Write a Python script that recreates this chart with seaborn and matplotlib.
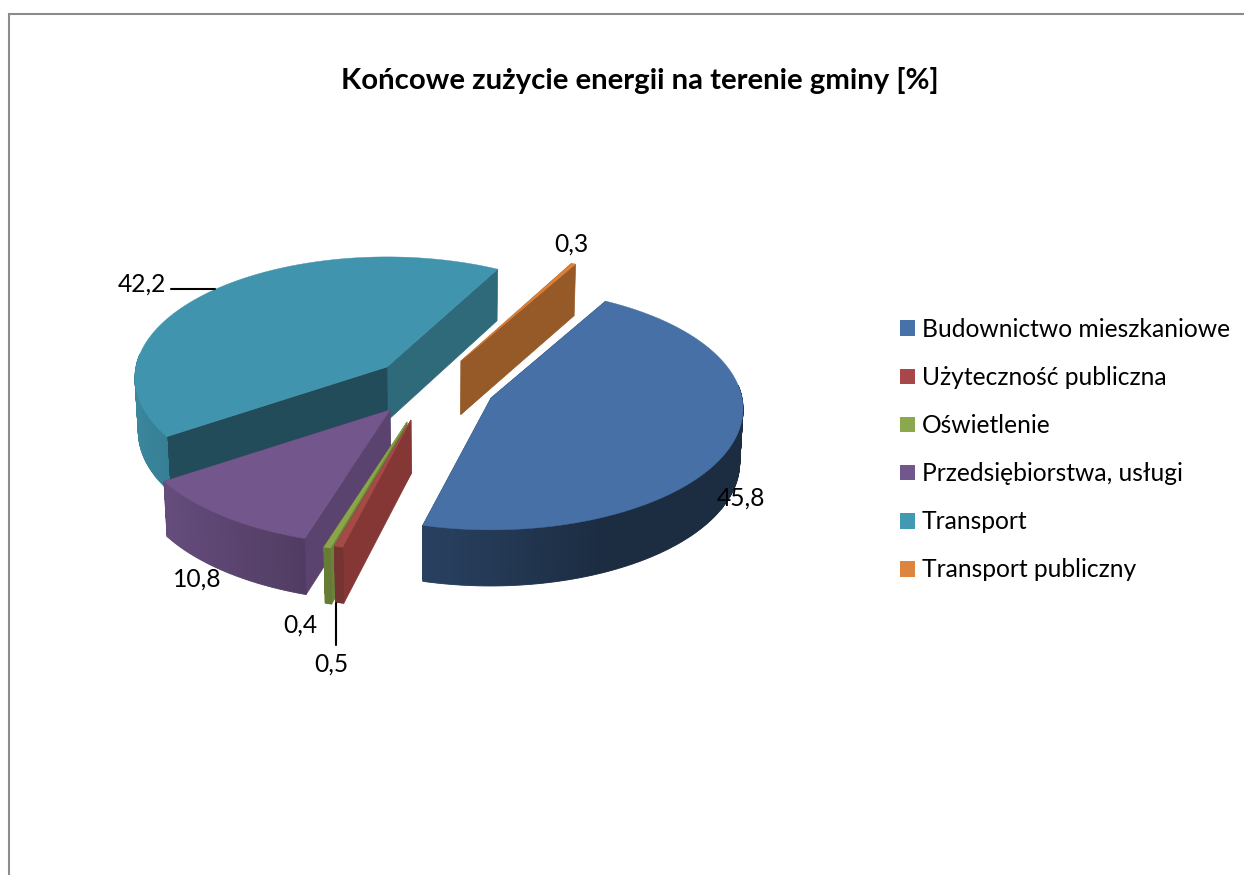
import numpy as np
import matplotlib
matplotlib.use("Agg")
import matplotlib.pyplot as plt
from matplotlib.patches import Patch
from matplotlib.colors import to_rgb
import seaborn as sns

title = "Końcowe zużycie energii na terenie gminy [%]"
categories = ["Budownictwo mieszkaniowe", "Użyteczność publiczna", "Oświetlenie",
              "Przedsiębiorstwa, usługi", "Transport", "Transport publiczny"]
values = [45.8, 0.5, 0.4, 10.8, 42.2, 0.3]
value_labels = ["45,8", "0,5", "0,4", "10,8", "42,2", "0,3"]

sns.set_theme(style="white")
plt.rcParams["font.family"] = ["Lato", "DejaVu Sans"]

top_colors = sns.color_palette(["#4670A6", "#A54A47", "#8AA648", "#72568C", "#4094AD", "#DC8037"])
legend_colors = sns.color_palette(["#4672A8", "#A8474A", "#8AA84C", "#72578F", "#4199B2", "#DD843E"])
side_colors = sns.color_palette(["#2B4A6E", "#843735", "#6B823A", "#5A446F", "#224C5A", "#955A28"])
side2_colors = sns.color_palette(["#2B4A6E", "#843735", "#6B823A", "#5A446F", "#2E6A7A", "#955A28"])
wall_gain = [1.0, 1.2, 1.25, 1.18, 1.15, 1.0]

# layout of the exploded slices
centers = [(491, 398), (411, 420), (407, 422), (390, 410), (387, 367), (461, 361)]
radii = [1.0, 1.0, 1.0, 1.025, 1.0, 1.0]
label_pos = [(741, 498), (331, 664), (300, 625), (197, 579), (142, 284), (571, 244)]
first_angle = 29.5
RX, RY, PERSP, DEPTH, VANISH_X, VANISH_K = 251.0, 120.0, 0.09, 53.5, 440.0, 0.989

fig = plt.figure(figsize=(12.44, 8.75), dpi=100)
ax = fig.add_axes([0, 0, 1, 1])
ax.set_xlim(0, 1244)
ax.set_ylim(875, 0)
ax.axis("off")


def project(angle_deg, center, radius=1.0):
    """Map a pie-plane angle to the top face and to the bottom face."""
    t = np.radians(angle_deg)
    X, Y = radius * np.sin(t), -radius * np.cos(t)
    s = 1.0 / (1.0 - PERSP * Y)
    x = center[0] + RX * X * s
    y = center[1] + RY * Y * s
    xb = VANISH_X + (x - VANISH_X) * VANISH_K
    yb = y + DEPTH * np.sqrt(s)
    return x, y, xb, yb, X, Y


def shade(color, X, gain):
    f = float(np.clip(0.512 - 0.28 * X, 0.40, 0.80)) * gain
    return tuple(min(1.0, c * f) for c in to_rgb(color))


edges = first_angle + np.cumsum([0] + values) * 360.0 / sum(values)
order = [4, 5, 3, 2, 1, 0]

for i in order:
    a0, a1 = edges[i], edges[i + 1]
    c = centers[i]
    z = order.index(i) * 4
    angs = np.linspace(a0, a1, max(8, int((a1 - a0) * 2)))
    x, y, xb, yb, X, Y = project(angs, c, radii[i])
    ab = VANISH_X + (c[0] - VANISH_X) * VANISH_K
    # flat faces along both radii
    ax.fill([c[0], x[-1], xb[-1], ab], [c[1], y[-1], yb[-1], c[1] + DEPTH],
            color=side2_colors[i], lw=0.5, zorder=z + 1)
    ax.fill([c[0], x[0], xb[0], ab], [c[1], y[0], yb[0], c[1] + DEPTH],
            color=side_colors[i], lw=0.5, zorder=z + 1)
    # curved outer wall: smooth-edged base, then seamless bands above it
    for k in range(len(angs) - 1):
        if Y[k] < -0.1 and Y[k + 1] < -0.1:
            continue
        col = shade(top_colors[i], 0.5 * (X[k] + X[k + 1]), wall_gain[i])
        ax.fill([x[k], x[k + 1], xb[k + 1], xb[k]], [y[k], y[k + 1], yb[k + 1], yb[k]],
                color=col, lw=0.6, zorder=z + 2)
        ax.fill([x[k], x[k + 1], xb[k + 1], xb[k]],
                [y[k], y[k + 1], yb[k + 1] - 1.5, yb[k] - 1.5],
                facecolor=col, edgecolor="none", lw=0, antialiased=False, zorder=z + 2.5)
    # top face
    ax.fill(np.r_[c[0], x], np.r_[c[1], y], color=top_colors[i], lw=0.3, zorder=z + 3)

# chart frame
ax.plot([9, 9, 1244], [875, 14, 14], color="#8C8C8C", lw=1.5, zorder=0, solid_joinstyle="miter")

# leader lines
ax.plot([171, 215], [289, 289], color="black", lw=1.5, zorder=40)
ax.plot([336, 336], [603, 645], color="black", lw=1.5, zorder=40)

for (px, py), txt in zip(label_pos, value_labels):
    ax.text(px, py, txt, ha="center", va="center", fontsize=17.7, color="black", zorder=50)

ax.text(640, 80, title, ha="center", va="center", fontsize=21.2, fontweight="bold", color="black")

handles = [Patch(facecolor=col, edgecolor="none", label=lab) for col, lab in zip(legend_colors, categories)]
ax.legend(handles=handles, loc="upper left", bbox_to_anchor=(900, 318), bbox_transform=ax.transData,
          frameon=False, fontsize=17.7, handlelength=0.61, handleheight=0.61, handletextpad=0.28,
          labelspacing=1.02, borderpad=0, borderaxespad=0, labelcolor="black")

fig.savefig("out.png", dpi=100)
